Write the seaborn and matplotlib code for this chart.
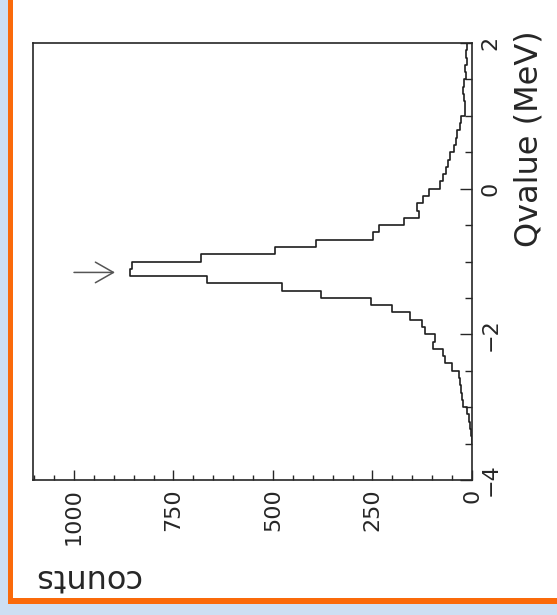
import numpy as np
import pandas as pd
import matplotlib
matplotlib.use("Agg")
import matplotlib.pyplot as plt
from matplotlib.patches import Rectangle
from matplotlib.ticker import MultipleLocator
import seaborn as sns

# Q-value spectrum, 0.1 MeV bins from -3.5 MeV up to 2.0 MeV
q_start = -3.5
q_stop = 2.0
counts = [1, 2, 4, 7, 12, 23, 25, 27, 30, 32,
          49, 68, 74, 97, 93, 117, 125, 156, 202, 253,
          379, 478, 666, 860, 855, 681, 496, 393, 249, 233,
          171, 134, 139, 123, 108, 81, 72, 66, 60, 56,
          45, 40, 37, 30, 28, 18, 17, 21, 22, 19,
          16, 17, 13, 14, 12]

count_ticks = [0, 250, 500, 750, 1000]
q_ticks = [-4, -2, 0, 2]
peak_q = -1.15

edges = np.linspace(q_start, q_stop, len(counts) + 1)
centers = 0.5 * (edges[:-1] + edges[1:])
spectrum = pd.DataFrame({"qvalue": centers, "counts": counts})

sns.set_theme(style="white")
plt.rcParams["font.family"] = ["DejaVu Sans"]

W, H = 557, 615
fig = plt.figure(figsize=(W / 100, H / 100), dpi=100)
fig.patch.set_facecolor("#cddff3")
fig.add_artist(Rectangle((8 / W, 1 - 604 / H), 1, 1, transform=fig.transFigure,
                         facecolor="#fa6a0a", edgecolor="none", zorder=0))
fig.add_artist(Rectangle((13 / W, 1 - 598 / H), 1, 1, transform=fig.transFigure,
                         facecolor="white", edgecolor="none", zorder=0))

ax = fig.add_axes([33 / W, 1 - 480 / H, (472 - 33) / W, (480 - 43) / H])
ax.set_facecolor("white")

sns.histplot(data=spectrum, y="qvalue", weights="counts", bins=edges.tolist(),
             element="step", fill=False, color="#1e1e1e", linewidth=1.2, ax=ax)

ax.set_xlim(1103, 0)
ax.set_ylim(-4, 2)

ink = "#262626"
for s in ax.spines.values():
    s.set_visible(True)
    s.set_color(ink)
    s.set_linewidth(1.2)

ax.xaxis.set_ticks_position("bottom")
ax.yaxis.tick_right()
ax.set_xticks(count_ticks)
ax.set_xticklabels([str(v) for v in count_ticks])
ax.xaxis.set_minor_locator(MultipleLocator(50))
ax.set_yticks(q_ticks)
ax.set_yticklabels([f"{v}".replace("-", "\u2212") for v in q_ticks])
ax.yaxis.set_minor_locator(MultipleLocator(0.5))

ax.tick_params(axis="x", which="major", direction="in", length=7.5, width=1.0,
               color=ink, pad=6, labelsize=16, labelcolor=ink, labelrotation=90)
ax.tick_params(axis="x", which="minor", direction="in", length=3.5, width=1.0, color=ink)
ax.tick_params(axis="y", which="major", direction="in", length=8.5, width=1.0,
               color=ink, pad=6, labelsize=16, labelcolor=ink, labelrotation=90)
ax.tick_params(axis="y", which="minor", direction="in", length=5, width=1.0, color=ink)
for lab in ax.get_yticklabels():
    lab.set_verticalalignment("center")

ax.set_xlabel("counts", fontsize=23, color=ink, rotation=180, ha="left", va="center")
ax.xaxis.set_label_coords(0.0, -0.222)
ax.yaxis.set_label_position("right")
ax.set_ylabel("Qvalue (MeV)", fontsize=23, color=ink, rotation=90,
              rotation_mode="anchor", ha="right", va="center")
ax.yaxis.set_label_coords(1.13, 1.03)

# marker arrow pointing at the peak bin
ax.annotate("", xy=(897, peak_q), xytext=(1000, peak_q),
            arrowprops=dict(arrowstyle="->,head_length=0.65,head_width=0.37",
                            mutation_scale=20, color="#555555", lw=1.1,
                            shrinkA=0, shrinkB=0))

fig.savefig("out.png", dpi=100, facecolor=fig.get_facecolor())
